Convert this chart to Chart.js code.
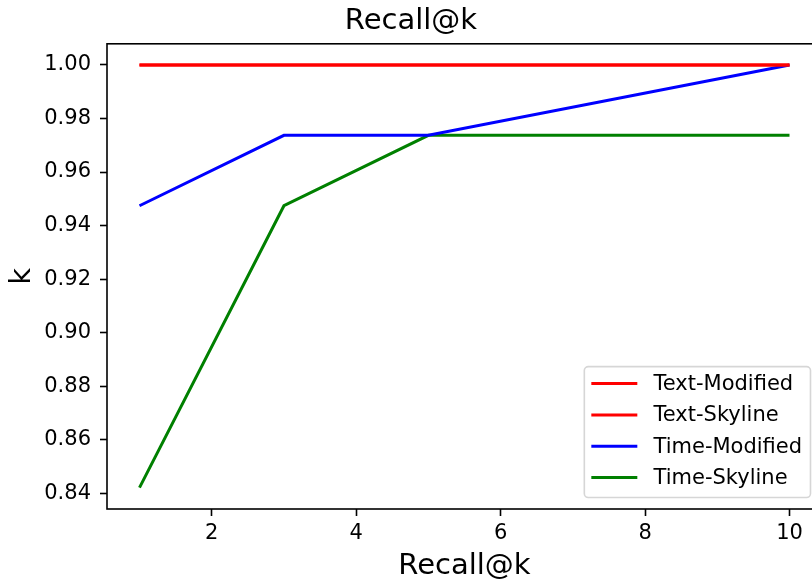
<!DOCTYPE html>
<html>
<head>
<meta charset="utf-8">
<script src="https://cdn.jsdelivr.net/npm/chart.js@4"></script>
<style>
  html, body { margin: 0; padding: 0; background: #fff; overflow: hidden; }
  #wrap { width: 822px; height: 584px; }
</style>
</head>
<body>
<div id="wrap"><canvas id="chart" width="822" height="584"></canvas></div>
<script>
// 数据
const kValues = [1, 3, 5, 10];
const textModified = [1.0, 1.0, 1.0, 1.0];
const textSkyline = [1.0, 1.0, 1.0, 1.0];
const timeModified = [0.9474, 0.9737, 0.9737, 1.0];
const timeSkyline = [0.8421, 0.9474, 0.9737, 0.9737];
const seriesNames = ['Text-Modified', 'Text-Skyline', 'Time-Modified', 'Time-Skyline'];
const seriesColors = ['#ff0000', '#ff0000', '#0000ff', '#008000'];
const xTicks = [2, 4, 6, 8, 10];
const yTicks = [0.84, 0.86, 0.88, 0.90, 0.92, 0.94, 0.96, 0.98, 1.00];

const FONT = "'DejaVu Sans', sans-serif";

function toPoints(ys) {
    return kValues.map((k, i) => ({ x: k, y: ys[i] }));
}

// 边框 + 图例（matplotlib 风格）
const framePlugin = {
    id: 'frame',
    afterDatasetsDraw(chart) {
        const { ctx, chartArea: a } = chart;
        ctx.save();
        ctx.strokeStyle = '#000';
        ctx.lineWidth = 1.6;
        ctx.strokeRect(a.left, a.top, a.right - a.left, a.bottom - a.top);

        // 图例
        ctx.font = '21px ' + FONT;
        const widths = seriesNames.map(n => ctx.measureText(n).width);
        const boxW = 8.4 + 42 + 16.8 + Math.max(...widths) + 10.4;
        const pitch = 31.3;
        const boxH = 17 + 20 + pitch * (seriesNames.length - 1);
        const right = a.right - 11.5;
        const bottom = a.bottom - 11.5;
        const left = right - boxW;
        const top = bottom - boxH;
        ctx.beginPath();
        ctx.roundRect(left, top, boxW, boxH, 4);
        ctx.fillStyle = 'rgba(255,255,255,0.8)';
        ctx.fill();
        ctx.strokeStyle = 'rgba(204,204,204,0.8)';
        ctx.lineWidth = 1.6;
        ctx.stroke();

        ctx.textBaseline = 'middle';
        ctx.textAlign = 'left';
        seriesNames.forEach((name, i) => {
            const cy = top + 17 + i * pitch;
            ctx.beginPath();
            ctx.moveTo(left + 7, cy);
            ctx.lineTo(left + 7 + 46, cy);
            ctx.strokeStyle = seriesColors[i];
            ctx.lineWidth = 3;
            ctx.stroke();
            ctx.fillStyle = '#000';
            ctx.fillText(name, left + 8.4 + 42 + 18.8, cy + 1);
        });
        ctx.restore();
    }
};

const datasets = [textModified, textSkyline, timeModified, timeSkyline].map((ys, i) => ({
    label: seriesNames[i],
    data: toPoints(ys),
    borderColor: seriesColors[i],
    backgroundColor: seriesColors[i],
    borderWidth: 3,
    pointRadius: 0,
    tension: 0,
    fill: false
}));

new Chart(document.getElementById('chart'), {
    type: 'line',
    data: { datasets: datasets },
    options: {
        responsive: false,
        animation: false,
        devicePixelRatio: 1,
        layout: { padding: 0 },
        plugins: {
            legend: { display: false },
            tooltip: { enabled: false },
            title: {
                display: true,
                text: 'Recall@k',
                color: '#000',
                font: { family: FONT, size: 29, weight: 'normal' },
                padding: { top: 4, bottom: 5 }
            }
        },
        scales: {
            x: {
                type: 'linear',
                min: 0.55,
                max: 10.45,
                afterFit: s => { s.height = 75; },
                afterBuildTicks: s => { s.ticks = xTicks.map(v => ({ value: v })); },
                grid: { drawOnChartArea: false, tickLength: 7, tickWidth: 1.6, tickColor: '#000' },
                border: { display: false },
                ticks: {
                    color: '#000',
                    padding: 5,
                    maxRotation: 0,
                    font: { family: FONT, size: 21 },
                    callback: v => String(v)
                },
                title: {
                    display: true,
                    text: 'Recall@k',
                    color: '#000',
                    font: { family: FONT, size: 29 },
                    padding: { top: 0, bottom: 0 }
                }
            },
            y: {
                type: 'linear',
                min: 0.8341,
                max: 1.0079,
                afterFit: s => { s.width = 107; },
                afterBuildTicks: s => { s.ticks = yTicks.map(v => ({ value: v })); },
                grid: { drawOnChartArea: false, tickLength: 7, tickWidth: 1.6, tickColor: '#000' },
                border: { display: false },
                ticks: {
                    color: '#000',
                    padding: 9,
                    font: { family: FONT, size: 21 },
                    callback: v => v.toFixed(2)
                },
                title: {
                    display: true,
                    text: 'k',
                    color: '#000',
                    font: { family: FONT, size: 29 },
                    padding: { top: 5, bottom: 0 }
                }
            }
        }
    },
    plugins: [framePlugin]
});
</script>
</body>
</html>
